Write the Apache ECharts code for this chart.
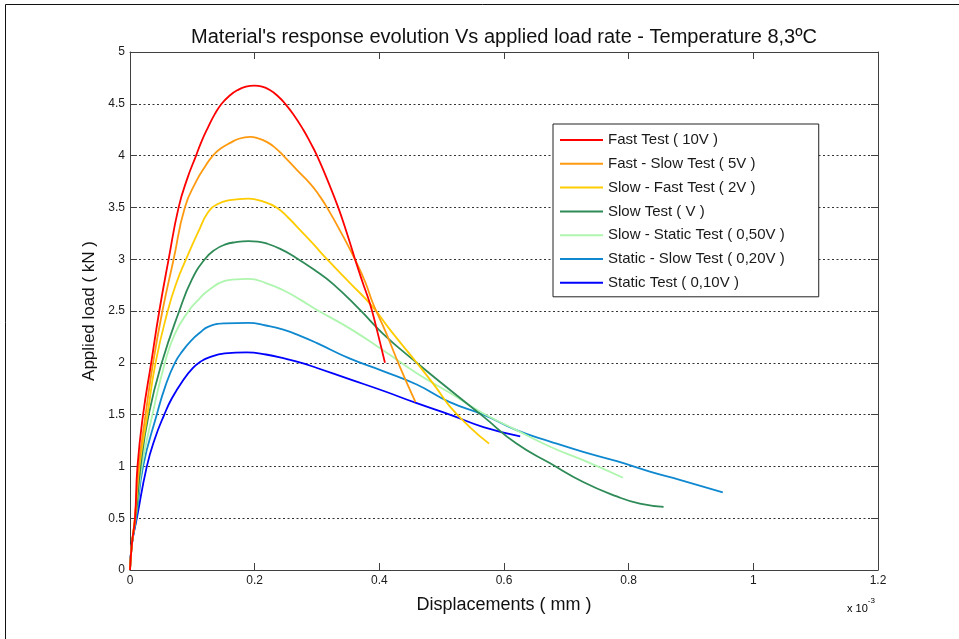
<!DOCTYPE html>
<html>
<head>
<meta charset="utf-8">
<script src="https://cdn.jsdelivr.net/npm/echarts@6/dist/echarts.min.js"></script>
<style>
  html, body { margin: 0; padding: 0; background: #ffffff; }
  #chart { width: 959px; height: 639px; }
</style>
</head>
<body>
<div id="chart"></div>
<script>
// Displacement values are in units of 1e-3 mm, load in kN.
const titleText = "Material's response evolution Vs applied load rate - Temperature 8,3ºC";
const xAxisTitle = 'Displacements ( mm )';
const yAxisTitle = 'Applied load ( kN )';
const xTickLabels = ['0', '0.2', '0.4', '0.6', '0.8', '1', '1.2'];
const yTickLabels = ['0', '0.5', '1', '1.5', '2', '2.5', '3', '3.5', '4', '4.5', '5'];

const seriesNames = [
  'Fast Test ( 10V )',
  'Fast - Slow Test ( 5V )',
  'Slow - Fast Test ( 2V )',
  'Slow Test ( V )',
  'Slow - Static Test ( 0,50V )',
  'Static - Slow Test ( 0,20V )',
  'Static Test ( 0,10V )'
];
const seriesColors = ['#ff0000', '#ff9a10', '#ffcc00', '#2e8b57', '#aef5ae', '#0f88d0', '#0000ff'];

const fastTest = [
  [0, 0], [0.003, 0.25], [0.008, 0.5], [0.012, 1.0], [0.021, 1.5], [0.034, 2.0], [0.047, 2.5],
  [0.062, 3.0], [0.078, 3.5], [0.092, 3.78], [0.106, 4.0], [0.115, 4.14], [0.125, 4.27],
  [0.136, 4.40], [0.147, 4.5], [0.16, 4.58], [0.172, 4.63], [0.186, 4.665], [0.1995, 4.675],
  [0.212, 4.665], [0.225, 4.63], [0.237, 4.575], [0.249, 4.5], [0.263, 4.39], [0.278, 4.25],
  [0.289, 4.13], [0.30, 4.0], [0.317, 3.76], [0.334, 3.5], [0.348, 3.25], [0.361, 3.0],
  [0.373, 2.78], [0.385, 2.57], [0.396, 2.32], [0.409, 2.0]
];
const fastSlowTest = [
  [0, 0], [0.003, 0.25], [0.008, 0.5], [0.014, 1.0], [0.025, 1.5], [0.037, 2.0], [0.052, 2.5],
  [0.070, 3.0], [0.088, 3.5], [0.107, 3.76], [0.12, 3.89], [0.133, 4.0], [0.146, 4.07],
  [0.16, 4.12], [0.176, 4.165], [0.1925, 4.18], [0.206, 4.165], [0.22, 4.13], [0.233, 4.075],
  [0.246, 4.0], [0.268, 3.86], [0.289, 3.73], [0.303, 3.62], [0.316, 3.5], [0.342, 3.22],
  [0.364, 2.96], [0.378, 2.77], [0.390, 2.57], [0.41, 2.3], [0.433, 1.96], [0.458, 1.62]
];
const slowFastTest = [
  [0, 0], [0.003, 0.25], [0.008, 0.5], [0.015, 1.0], [0.028, 1.5], [0.041, 2.0], [0.0605, 2.5],
  [0.075, 2.78], [0.090, 3.0], [0.110, 3.27], [0.125, 3.45], [0.14, 3.53], [0.16, 3.57],
  [0.19, 3.585], [0.212, 3.56], [0.235, 3.5], [0.254, 3.4], [0.273, 3.28], [0.295, 3.14],
  [0.316, 3.0], [0.353, 2.77], [0.388, 2.55], [0.417, 2.32], [0.46, 2.0], [0.49, 1.77],
  [0.513, 1.58], [0.545, 1.38], [0.576, 1.22]
];
const slowTest = [
  [0, 0], [0.003, 0.25], [0.009, 0.5], [0.017, 1.0], [0.030, 1.5], [0.051, 2.0], [0.079, 2.5],
  [0.099, 2.80], [0.120, 3.0], [0.136, 3.09], [0.152, 3.14], [0.17, 3.165], [0.19, 3.175],
  [0.205, 3.17], [0.22, 3.15], [0.241, 3.1], [0.262, 3.03], [0.295, 2.9], [0.326, 2.76],
  [0.369, 2.51], [0.406, 2.28], [0.46, 2.0], [0.513, 1.74], [0.567, 1.48], [0.62, 1.22],
  [0.674, 1.03], [0.727, 0.85], [0.781, 0.71], [0.818, 0.64], [0.856, 0.61]
];
const slowStaticTest = [
  [0, 0], [0.003, 0.25], [0.009, 0.5], [0.019, 1.0], [0.036, 1.5], [0.056, 2.0], [0.072, 2.28],
  [0.094, 2.5], [0.11, 2.61], [0.126, 2.70], [0.152, 2.79], [0.17, 2.805], [0.19, 2.81],
  [0.218, 2.77], [0.246, 2.70], [0.273, 2.61], [0.30, 2.51], [0.353, 2.33], [0.406, 2.12],
  [0.46, 1.90], [0.513, 1.71], [0.567, 1.51], [0.62, 1.35], [0.674, 1.19], [0.727, 1.06],
  [0.791, 0.89]
];
const staticSlowTest = [
  [0, 0], [0.003, 0.25], [0.010, 0.5], [0.021, 1.0], [0.043, 1.5], [0.057, 1.78], [0.072, 2.0],
  [0.085, 2.12], [0.099, 2.22], [0.112, 2.29], [0.126, 2.35], [0.152, 2.38], [0.19, 2.385],
  [0.218, 2.36], [0.246, 2.32], [0.273, 2.26], [0.30, 2.19], [0.353, 2.04], [0.406, 1.92],
  [0.46, 1.79], [0.513, 1.62], [0.567, 1.50], [0.62, 1.35], [0.674, 1.24], [0.727, 1.14],
  [0.781, 1.05], [0.834, 0.95], [0.882, 0.87], [0.951, 0.75]
];
const staticTest = [
  [0, 0], [0.003, 0.25], [0.011, 0.5], [0.027, 1.0], [0.04, 1.27], [0.055, 1.5], [0.067, 1.655],
  [0.085, 1.83], [0.101, 1.95], [0.113, 2.01], [0.126, 2.05], [0.152, 2.09], [0.187, 2.10],
  [0.218, 2.08], [0.249, 2.04], [0.275, 2.0], [0.30, 1.95], [0.353, 1.84], [0.406, 1.73],
  [0.46, 1.61], [0.513, 1.50], [0.567, 1.38], [0.626, 1.29]
];

const seriesData = [fastTest, fastSlowTest, slowFastTest, slowTest, slowStaticTest, staticSlowTest, staticTest];

const FONT = '"Liberation Sans", Arial, Helvetica, sans-serif';
const AXIS_COLOR = '#404040';
const TEXT_COLOR = '#1a1a1a';

const chart = echarts.init(document.getElementById('chart'), null, { renderer: 'canvas' });

function valueAxisBase(min, max, interval) {
  return {
    type: 'value', min: min, max: max, interval: interval,
    axisLine: { show: true, onZero: false, lineStyle: { color: AXIS_COLOR, width: 1 } },
    axisTick: { show: true, inside: true, length: 7, lineStyle: { color: AXIS_COLOR, width: 1 } }
  };
}

const option = {
  backgroundColor: '#ffffff',
  animation: false,
  textStyle: { fontFamily: FONT },
  title: {
    text: titleText,
    left: 499, top: 22, textAlign: 'center',
    textStyle: { fontFamily: FONT, fontSize: 20, fontWeight: 'normal', color: '#111' }
  },
  grid: { left: 130, right: 81, top: 52, bottom: 69, containLabel: false },
  legend: {
    orient: 'vertical',
    left: 553, top: 124,
    padding: [8, 34, 6, 7],
    itemGap: 7.8,
    itemWidth: 43, itemHeight: 2,
    icon: 'rect',
    backgroundColor: '#ffffff',
    borderColor: '#222', borderWidth: 1, borderRadius: 0,
    textStyle: { fontFamily: FONT, fontSize: 15, lineHeight: 16, color: TEXT_COLOR },
    data: seriesNames
  },
  xAxis: [
    Object.assign(valueAxisBase(0, 1.2, 0.2), {
      position: 'bottom',
      name: xAxisTitle, nameLocation: 'middle', nameGap: 26,
      nameTextStyle: { fontFamily: FONT, fontSize: 18, color: '#111' },
      axisLabel: {
        margin: 5, fontSize: 12, color: TEXT_COLOR, fontFamily: FONT,
        formatter: v => xTickLabels[Math.round(v / 0.2)]
      },
      splitLine: { show: false }
    }),
    Object.assign(valueAxisBase(0, 1.2, 0.2), {
      position: 'top',
      axisLabel: { show: false },
      splitLine: { show: false }
    })
  ],
  yAxis: [
    Object.assign(valueAxisBase(0, 5, 0.5), {
      position: 'left',
      name: yAxisTitle, nameLocation: 'middle', nameGap: 32, nameRotate: 90,
      nameTextStyle: { fontFamily: FONT, fontSize: 17, color: '#111' },
      axisLabel: {
        margin: 5, fontSize: 12, color: TEXT_COLOR, fontFamily: FONT,
        formatter: v => yTickLabels[Math.round(v / 0.5)]
      },
      splitLine: { show: true, lineStyle: { color: '#333', width: 1, type: [2, 2.5] } }
    }),
    Object.assign(valueAxisBase(0, 5, 0.5), {
      position: 'right',
      axisLabel: { show: false },
      splitLine: { show: false }
    })
  ],
  graphic: [
    {
      type: 'polyline', silent: true,
      shape: { points: [[5.5, 700], [5.5, 4.5], [959, 4.5]] },
      style: { stroke: '#111', lineWidth: 1, fill: null }
    },
    {
      type: 'text', left: 847, top: 597, silent: true,
      style: {
        text: '{b|x 10}{s|-3}',
        rich: {
          b: { fontFamily: FONT, fontSize: 11, color: TEXT_COLOR, padding: [6, 0, 0, 0] },
          s: { fontFamily: FONT, fontSize: 8, color: TEXT_COLOR, verticalAlign: 'top' }
        }
      }
    }
  ],
  series: seriesNames.map((name, i) => ({
    name: name,
    type: 'line',
    xAxisIndex: 0, yAxisIndex: 0,
    data: seriesData[i],
    showSymbol: false,
    smooth: 0.5,
    color: seriesColors[i],
    lineStyle: { color: seriesColors[i], width: 1.8 },
    z: 10 - i
  }))
};

chart.setOption(option);
</script>
</body>
</html>
